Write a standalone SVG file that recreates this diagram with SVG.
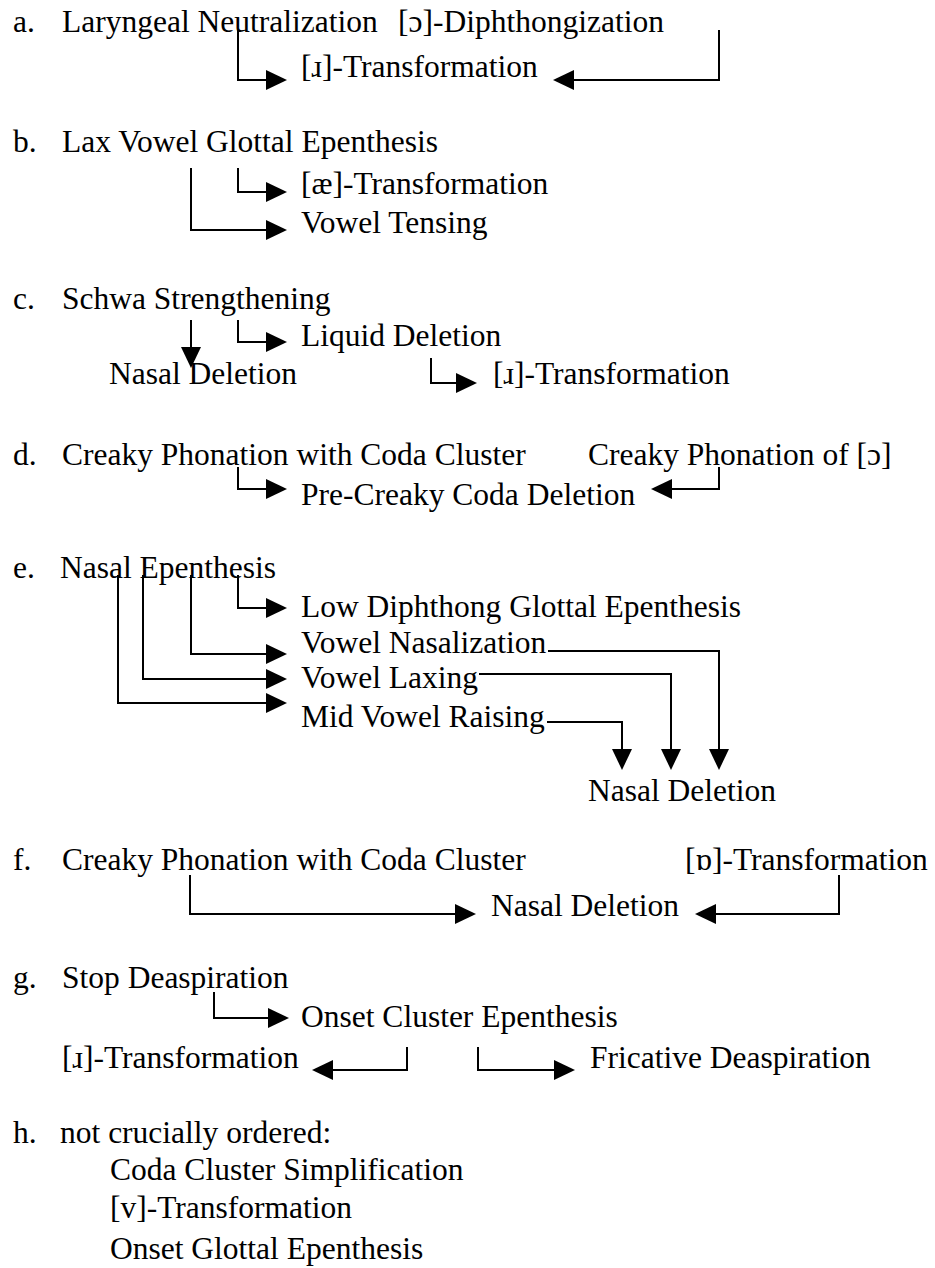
<svg xmlns="http://www.w3.org/2000/svg" width="935" height="1268" viewBox="0 0 935 1268">
<style>
text{font-family:"Liberation Serif","DejaVu Serif",serif;font-size:31.5px;fill:#000}
.c path{fill:none;stroke:#000;stroke-width:2;marker-end:url(#ah)}
</style>
<defs>
<marker id="ah" markerUnits="userSpaceOnUse" markerWidth="22" markerHeight="22" viewBox="0 -11 22 22" refX="0" refY="0" orient="auto" overflow="visible">
<path d="M0,-10 L21,0 L0,10 Z" fill="#000"/>
</marker>
</defs>
<rect width="935" height="1268" fill="#fff"/>
<g id="labels">
<text x="13" y="32">a.</text>
<text x="13" y="152">b.</text>
<text x="13" y="309">c.</text>
<text x="13" y="465">d.</text>
<text x="13" y="578">e.</text>
<text x="13" y="870">f.</text>
<text x="13" y="988">g.</text>
<text x="13" y="1143">h.</text>
</g>
<g id="a1"><text x="62" y="32">Laryngeal Neutralization</text></g>
<g id="a2"><text x="398" y="32">[ɔ]-Diphthongization</text></g>
<g id="a3"><text x="301" y="77">[ɹ]-Transformation</text></g>
<g id="b1"><text x="62" y="152">Lax Vowel Glottal Epenthesis</text></g>
<g id="b2"><text x="301" y="194">[æ]-Transformation</text></g>
<g id="b3"><text x="301" y="233">Vowel Tensing</text></g>
<g id="c1"><text x="62" y="309">Schwa Strengthening</text></g>
<g id="c2"><text x="301" y="346">Liquid Deletion</text></g>
<g id="c3"><text x="109" y="384">Nasal Deletion</text></g>
<g id="c4"><text x="493" y="384">[ɹ]-Transformation</text></g>
<g id="d1"><text x="62" y="465">Creaky Phonation with Coda Cluster</text></g>
<g id="d2"><text x="588" y="465">Creaky Phonation of [ɔ]</text></g>
<g id="d3"><text x="301" y="505">Pre-Creaky Coda Deletion</text></g>
<g id="e1"><text x="60" y="578">Nasal Epenthesis</text></g>
<g id="e2"><text x="301" y="617">Low Diphthong Glottal Epenthesis</text></g>
<g id="e3"><text x="301" y="653">Vowel Nasalization</text></g>
<g id="e4"><text x="301" y="688">Vowel Laxing</text></g>
<g id="e5"><text x="301" y="727">Mid Vowel Raising</text></g>
<g id="e6"><text x="588" y="801">Nasal Deletion</text></g>
<g id="f1"><text x="62" y="870">Creaky Phonation with Coda Cluster</text></g>
<g id="f2"><text x="685" y="870">[ɒ]-Transformation</text></g>
<g id="f3"><text x="491" y="916">Nasal Deletion</text></g>
<g id="g1"><text x="62" y="988">Stop Deaspiration</text></g>
<g id="g2"><text x="301" y="1027">Onset Cluster Epenthesis</text></g>
<g id="g3"><text x="62" y="1068">[ɹ]-Transformation</text></g>
<g id="g4"><text x="590" y="1068">Fricative Deaspiration</text></g>
<g id="h1"><text x="60" y="1143">not crucially ordered:</text></g>
<g id="h2"><text x="110" y="1180">Coda Cluster Simplification</text></g>
<g id="h3"><text x="110" y="1218">[v]-Transformation</text></g>
<g id="h4"><text x="110" y="1259">Onset Glottal Epenthesis</text></g>
<g id="connectors" class="c">
<path d="M238,30 V80 H266"/>
<path d="M719,30 V80 H574"/>
<path d="M238,168 V192 H266"/>
<path d="M191,168 V230 H266"/>
<path d="M191,320 V347"/>
<path d="M238,320 V342 H266"/>
<path d="M431,358 V383 H456"/>
<path d="M238,467 V489 H266"/>
<path d="M719,467 V489 H672"/>
<path d="M238,575 V608 H266"/>
<path d="M191,575 V654 H266"/>
<path d="M143,575 V679 H266"/>
<path d="M118,575 V703 H266"/>
<path d="M548,651 H719 V749"/>
<path d="M479,674 H671 V749"/>
<path d="M547,722 H622 V749"/>
<path d="M190,875 V914 H455"/>
<path d="M839,875 V914 H716"/>
<path d="M214,992 V1018 H268"/>
<path d="M407,1047 V1070 H333"/>
<path d="M478,1047 V1070 H554"/>
</g>
</svg>
